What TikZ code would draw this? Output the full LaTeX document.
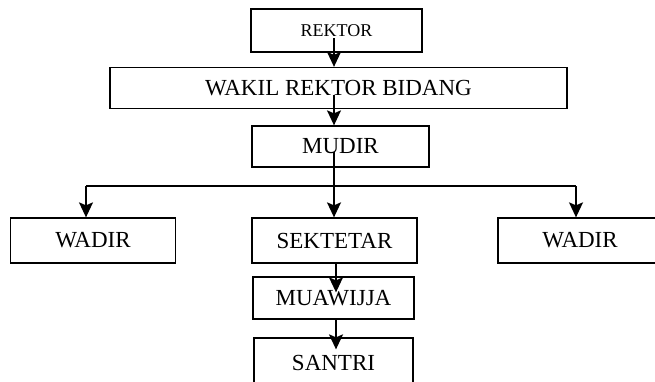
\documentclass[tikz,border=0pt]{standalone}
\usepackage{fontspec}
\setmainfont{Liberation Serif}
\usetikzlibrary{arrows.meta,calc}
\begin{document}
\begin{tikzpicture}[x=1pt,y=-1pt,
  box/.style={draw,line width=1.3pt,rectangle,inner sep=0pt,align=center,font=\fontsize{23}{26}\selectfont},
  arr/.style={line width=1.5pt,-{Stealth[length=15pt,width=14pt,inset=3pt]}},
  ln/.style={line width=1.5pt}]
\clip (0,0) rectangle (655,381);
\node[box,minimum width=171pt,minimum height=43pt,font=\fontsize{18}{21}\selectfont] (rektor) at (336.5,30.5) {REKTOR};
\node[box,minimum width=457pt,minimum height=41pt] (wakil) at (338.5,88) {WAKIL REKTOR BIDANG};
\node[box,minimum width=177pt,minimum height=41pt] (mudir) at (340.5,146.5) {MUDIR};
\node[box,minimum width=165pt,minimum height=45pt] (wadirL) at (93,240.5) {WADIR};
\node[box,minimum width=165pt,minimum height=45pt] (sek) at (334.5,240.5) {SEKTETAR};
\node[box,minimum width=164pt,minimum height=45pt] (wadirR) at (580,240.5) {WADIR};
\node[box,minimum width=161pt,minimum height=42pt] (muaw) at (333.5,298) {MUAWIJJA};
\node[box,minimum width=159pt,minimum height=50pt] (santri) at (333.5,363) {SANTRI};
% connector start points
\coordinate (s1) at (334,38);
\coordinate (s2) at (334,95);
\coordinate (s3) at (334,152);
\coordinate (hL) at (86,186);
\coordinate (hR) at (576,186);
\coordinate (s4) at (336,263);
\coordinate (s5) at (336,319);
\draw[arr] (s1) -- (s1 |- wakil.north);
\draw[arr] (s2) -- (s2 |- mudir.north);
\draw[arr] (s3) -- (s3 |- sek.north);
\draw[ln] (hL) -- (hR);
\draw[arr] (hL) -- (hL |- wadirL.north);
\draw[arr] (hR) -- (hR |- wadirR.north);
\draw[arr] (s4) -- ($(s4 |- muaw.north)+(0,16)$);
\draw[arr] (s5) -- ($(s5 |- santri.north)+(0,12)$);
\end{tikzpicture}
\end{document}
